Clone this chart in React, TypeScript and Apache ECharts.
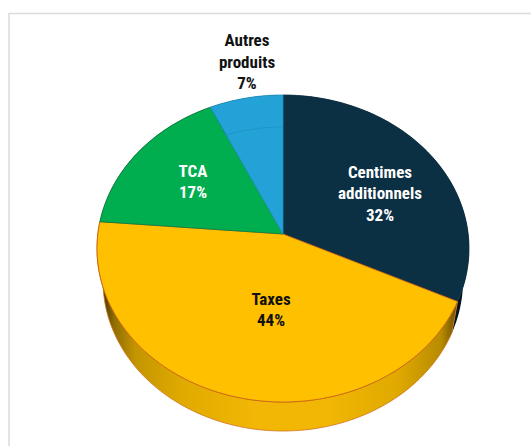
import React, { useEffect, useRef } from "react";
import * as echarts from "echarts";

const categories = ["Centimes additionnels", "Taxes", "TCA", "Autres produits"];
const values = [32, 44.3, 16.7, 7];
const labelLines = [["Centimes", "additionnels", "32%"], ["Taxes", "44%"], ["TCA", "17%"], ["Autres", "produits", "7%"]];
const faceColors = ["#0b2f43", "#ffc000", "#00ae4f", "#23a2d8"];
const faceBorders = ["#0b2f43", "#c55a11", "#0a7a3c", "#1f8fc0"];
const labelColors = ["#ffffff", "#111111", "#ffffff", "#111111"];
const labelAnchors = [[380, 193], [271, 309.5], [193, 181.5], [247, 61.5]];

const TOP = { cx: 283, cy: 248.5, rx: 186, ry: 153.5 };
const BOTTOM = { cx: 283, cy: 281, rx: 180, ry: 150 };
const INNER = { cx: 283, cy: 227, rx: 145, ry: 100 };
const TILT = 0.0945;
const total = values.reduce((a, b) => a + b, 0);

type Ell = typeof TOP;
function rim(e: Ell, deg: number): number[] {
  const t = (deg * Math.PI) / 180;
  const u = Math.sin(t), v = Math.cos(t), w = 1 + TILT * v;
  return [
    e.cx + (e.rx * Math.sqrt(1 - TILT * TILT) * u) / w,
    e.cy - (e.ry * (v + TILT)) / w,
  ];
}
function arcPoints(e: Ell, a: number, b: number): number[][] {
  const pts: number[][] = [];
  const n = Math.max(4, Math.ceil(Math.abs(b - a) / 1.5));
  for (let i = 0; i <= n; i++) pts.push(rim(e, a + ((b - a) * i) / n));
  return pts;
}
function startAngle(i: number): number {
  let s = 0;
  for (let k = 0; k < i; k++) s += values[k];
  return (s / total) * 360;
}
const apex = () => [TOP.cx, TOP.cy - TOP.ry * TILT];

export default function App() {
  const ref = useRef<HTMLDivElement>(null);
  useEffect(() => {
    document.body.style.margin = "0";
    document.body.style.background = "#ffffff";
    const chart = echarts.init(ref.current!, null, { renderer: "svg" });
    const wallFill = new echarts.graphic.LinearGradient(103, 0, 463, 0, [
      { offset: 0, color: "#4a3800" },
      { offset: 0.03, color: "#8f6d00" },
      { offset: 0.09, color: "#c49500" },
      { offset: 0.22, color: "#e0aa00" },
      { offset: 0.42, color: "#f2b705" },
      { offset: 0.62, color: "#f2b705" },
      { offset: 0.82, color: "#dfa900" },
      { offset: 0.94, color: "#b88b00" },
      { offset: 1, color: "#4a3800" },
    ], true);
    const data = values.map((v, i) => ({ name: categories[i], value: v }));
    chart.setOption({
      animation: false,
      backgroundColor: "#ffffff",
      graphic: [
        { type: "polyline", silent: true, z: 0, shape: { points: [[9, 446], [9, 13.5], [531, 13.5]] }, style: { fill: "none", stroke: "#dcdcdc", lineWidth: 1.6 } },
      ],
      series: [
        {
          type: "custom", coordinateSystem: "none", z: 1, silent: true, data,
          renderItem: (p: any, api: any) => {
            const a = startAngle(p.dataIndex);
            const b = a + (api.value(0) / total) * 360;
            const isGold = p.dataIndex === 1;
            return {
              type: "polygon",
              shape: { points: [...arcPoints(TOP, a, b), ...arcPoints(BOTTOM, a, b).reverse()] },
              style: isGold
                ? { fill: wallFill, stroke: "#d0741a", lineWidth: 0.8 }
                : { fill: "#06141d", stroke: "none" },
            };
          },
        },
        {
          type: "custom", coordinateSystem: "none", z: 2, silent: true, data,
          renderItem: (p: any, api: any) => {
            const i = p.dataIndex;
            const a = startAngle(i);
            const b = a + (api.value(0) / total) * 360;
            const children: any[] = [
              {
                type: "polygon",
                shape: { points: [apex(), ...arcPoints(TOP, a, b)] },
                style: { fill: faceColors[i], stroke: faceBorders[i], lineWidth: 0.8 },
              },
            ];
            if (i === 3) {
              children.push({
                type: "polyline",
                shape: { points: arcPoints(INNER, a, b) },
                style: { fill: "none", stroke: "#1f95c8", lineWidth: 1 },
              });
            }
            return { type: "group", children };
          },
        },
        {
          type: "custom", coordinateSystem: "none", z: 3, silent: true, data,
          renderItem: (p: any) => {
            const i = p.dataIndex;
            return {
              type: "text",
              x: labelAnchors[i][0],
              y: labelAnchors[i][1],
              style: {
                text: labelLines[i].join("\n"),
                fill: labelColors[i],
                font: "bold 17px 'Roboto Condensed', Roboto, sans-serif",
                lineHeight: 21.5,
                align: "center",
                verticalAlign: "middle",
              },
            };
          },
        },
      ],
    });
    return () => chart.dispose();
  }, []);
  return <div ref={ref} style={{ width: 531, height: 446 }} />;
}
